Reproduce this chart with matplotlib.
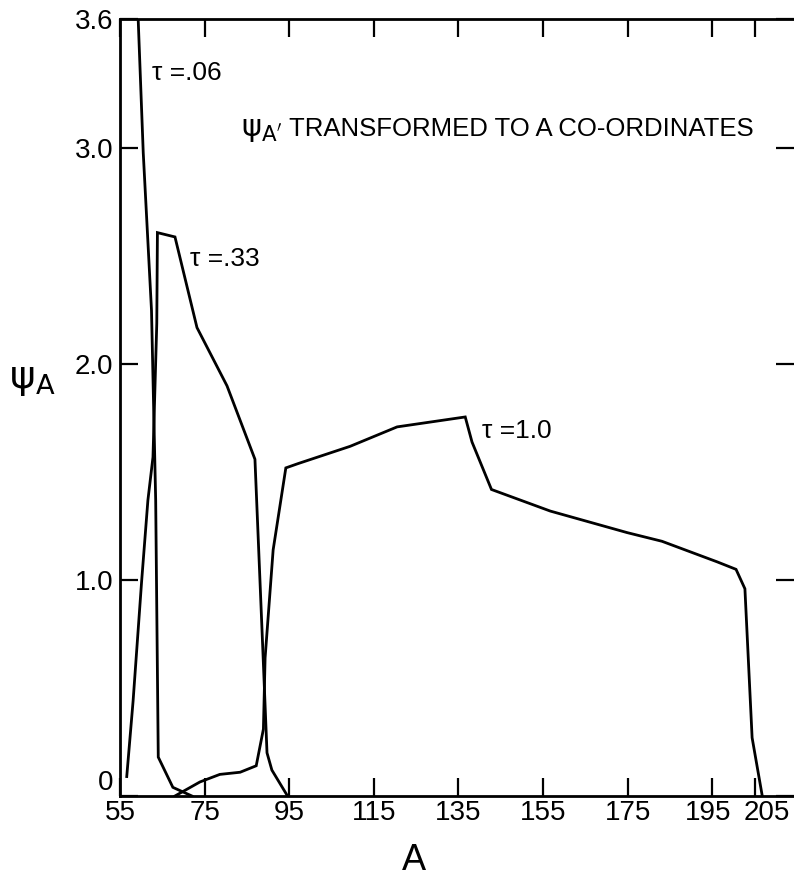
import matplotlib
matplotlib.use("Agg")
import matplotlib.pyplot as plt
import matplotlib.transforms as mtransforms

plt.rcParams['font.family'] = ['Liberation Sans Narrow', 'Liberation Sans', 'DejaVu Sans']
plt.rcParams['mathtext.fontset'] = 'dejavusans'

# psi_A against A for the three tau values
a_tau006 = [59.3, 60.5, 62.45, 63.44, 64.05, 67.5, 72.0]
psi_tau006 = [3.60, 2.98, 2.25, 1.37, 0.18, 0.04, 0.0]

a_tau033 = [56.6, 58.1, 60.1, 61.6, 62.8, 63.7, 63.85, 68.0, 73.2, 80.3, 86.9, 88.8, 89.75, 90.9, 94.6]
psi_tau033 = [0.09, 0.44, 0.99, 1.37, 1.57, 2.19, 2.61, 2.59, 2.17, 1.90, 1.56, 0.66, 0.20, 0.12, 0.0]

a_tau10 = [68.0, 73.9, 78.6, 83.4, 87.2, 88.9, 89.3, 91.2, 94.2, 97.1, 109.4, 120.5, 136.6,
           138.2, 142.8, 156.7, 174.9, 183.1, 196.1, 200.6, 202.7, 204.4, 206.8]
psi_tau10 = [0.0, 0.065, 0.10, 0.11, 0.14, 0.31, 0.64, 1.14, 1.52, 1.54, 1.62, 1.71, 1.756,
             1.64, 1.42, 1.32, 1.22, 1.18, 1.085, 1.05, 0.96, 0.27, 0.0]

x_ticks = [55, 75, 95, 115, 135, 155, 175, 195, 205]
y_ticks = [0, 1.0, 2.0, 3.0, 3.6]
y_tick_labels = ["0", "1.0", "2.0", "3.0", "3.6"]

fig = plt.figure(figsize=(7.94, 8.81), dpi=100)
ax = fig.add_axes([0.1511, 0.0965, 0.8489, 0.882])

for a, psi in [(a_tau006, psi_tau006), (a_tau033, psi_tau033), (a_tau10, psi_tau10)]:
    ax.plot(a, psi, color='black', lw=2.0, solid_joinstyle='miter')

ax.set_xlim(55, 214.3)
ax.set_ylim(0, 3.6)

ax.set_xticks(x_ticks)
ax.set_xticklabels([])
ax.set_yticks(y_ticks)
ax.set_yticklabels(y_tick_labels)

ax.spines['right'].set_visible(False)
for s in ['left', 'bottom', 'top']:
    ax.spines[s].set_linewidth(2.0)

ax.tick_params(axis='both', which='major', direction='in', length=13, width=1.6,
               labelsize=20, top=True, right=True, labeltop=False, labelright=False)
ax.tick_params(axis='y', pad=5)

# zero label sits a little above the corner so it clears "55"
ax.get_yticklabels()[0].set_va('bottom')

# x tick labels, the last two nudged apart since 195 and 205 are close
xlab_trans = mtransforms.blended_transform_factory(ax.transData, ax.transAxes)
for t in x_ticks:
    dx = {195: -4, 205: 12}.get(t, 0)
    off = mtransforms.ScaledTranslation(dx / 100, -4 / 100, fig.dpi_scale_trans)
    ax.text(t, 0, str(t), fontsize=20, ha='center', va='top',
            transform=xlab_trans + off, clip_on=False)

# curve labels
ax.text(62.6, 3.35, "τ =.06", fontsize=19, va='center', ha='left')
ax.text(71.5, 2.49, "τ =.33", fontsize=19, va='center', ha='left')
ax.text(140.6, 1.69, "τ =1.0", fontsize=19, va='center', ha='left')

# heading inside the plot
ax.text(83.6, 3.09, r"$\mathrm{\psi}_{\mathrm{A}'}$", fontsize=22, va='center', ha='left')
ax.text(95.0, 3.09, "TRANSFORMED TO A CO-ORDINATES", fontsize=18.5,
        family=['Liberation Sans', 'DejaVu Sans'], va='center', ha='left')

fig.text(414 / 794, 1 - 860 / 881, "A", fontsize=26, ha='center', va='center',
         family=['Liberation Sans', 'DejaVu Sans'])
fig.text(32 / 794, 1 - 380 / 881, r"$\mathrm{\psi}_{\mathrm{A}}$", fontsize=28,
         ha='center', va='center')

fig.savefig("out.png", dpi=100)
